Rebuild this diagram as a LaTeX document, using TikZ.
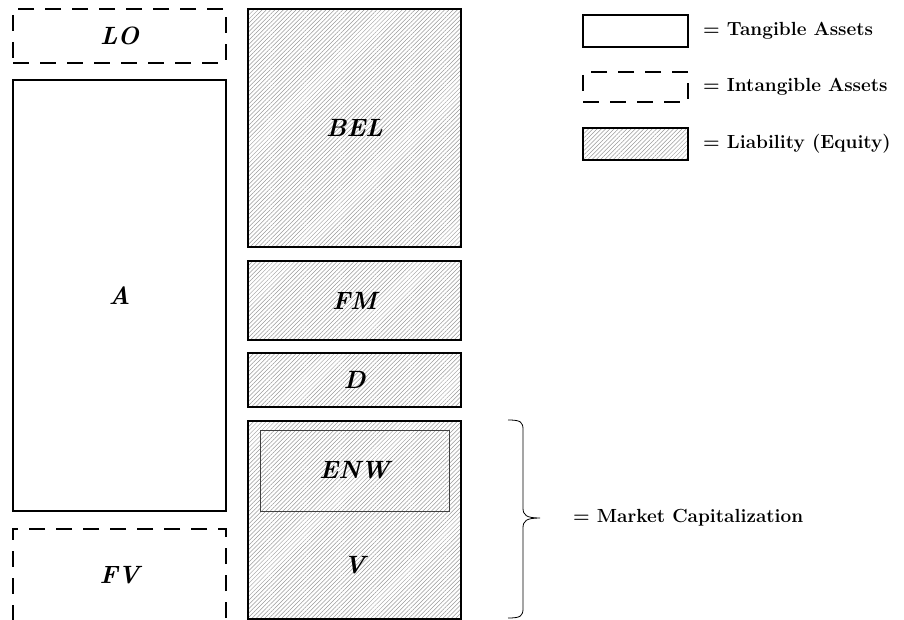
\documentclass[tikz,border=0pt]{standalone}
\usepackage{fontspec}
\usetikzlibrary{patterns.meta}
\tikzset{
  x=1pt, y=-1pt,
  box/.style={draw, line width=2.5pt, rectangle, inner sep=0pt, font=\fontsize{25}{27}\selectfont\bfseries\itshape},
  tang/.style={box, fill=white},
  intang/.style={box, dash pattern=on 16pt off 11pt},
  liab/.style={box, pattern={Lines[angle=45,distance=3pt,line width=0.5pt]}, pattern color=black!40},
  inner/.style={draw, line width=0.9pt, draw=black!75, rectangle, inner sep=0pt},
  lbl/.style={font=\fontsize{25}{27}\selectfont\bfseries\itshape, inner sep=0pt},
  legtxt/.style={anchor=west, inner sep=0pt, font=\fontsize{19}{22}\selectfont\bfseries},
  brace/.style={draw, line width=0.8pt}
}
\begin{document}
\begin{tikzpicture}
\useasboundingbox (0,0) rectangle (904,620);
% left column
\node[intang, minimum width=213pt, minimum height=54pt] (LO) at (119.5,36) {LO};
\node[tang, minimum width=213pt, minimum height=431pt] (A) at (119.5,295.5) {A};
\node[intang, minimum width=213pt, minimum height=92pt] (FV) at (119.5,575) {FV};
% right column
\node[liab, minimum width=213pt, minimum height=238pt] (BEL) at (354.5,128) {BEL};
\node[liab, minimum width=213pt, minimum height=79pt] (FM) at (354.5,300.5) {FM};
\node[liab, minimum width=213pt, minimum height=54pt] (D) at (354.5,380) {D};
\node[liab, minimum width=213pt, minimum height=198pt] (Vbox) at (354.5,520) {};
\node[inner, minimum width=189pt, minimum height=81pt] (ENWbox) at (354.5,470.5) {};
\node[lbl] (ENW) at (ENWbox.center) {ENW};
\node[lbl] (V) at (354.5,565) {V};
% legend
\node[tang, minimum width=105pt, minimum height=32pt] (Lt) at (635.5,31) {};
\node[intang, minimum width=105pt, minimum height=30pt] (Li) at (635.5,87) {};
\node[liab, minimum width=105pt, minimum height=32pt] (Ll) at (635.5,144) {};
\node[legtxt] (Tt) at (703,31) {= Tangible Assets};
\node[legtxt] (Ti) at (703,87) {= Intangible Assets};
\node[legtxt] (Tl) at (703,144) {= Liability (Equity)};
% brace
\coordinate (btop) at (508,420);
\coordinate (btip) at (540,518);
\coordinate (bbot) at (508,618);
\draw[brace] (btop) .. controls (521,420) and (523,422) .. (523,430) -- (523,508)
  .. controls (523,515) and (526,518) .. (btip)
  .. controls (526,518) and (523,521) .. (523,528) -- (523,608)
  .. controls (523,616) and (521,618) .. (bbot);
\node[legtxt] (MC) at (573,518) {= Market Capitalization};
\end{tikzpicture}
\end{document}
